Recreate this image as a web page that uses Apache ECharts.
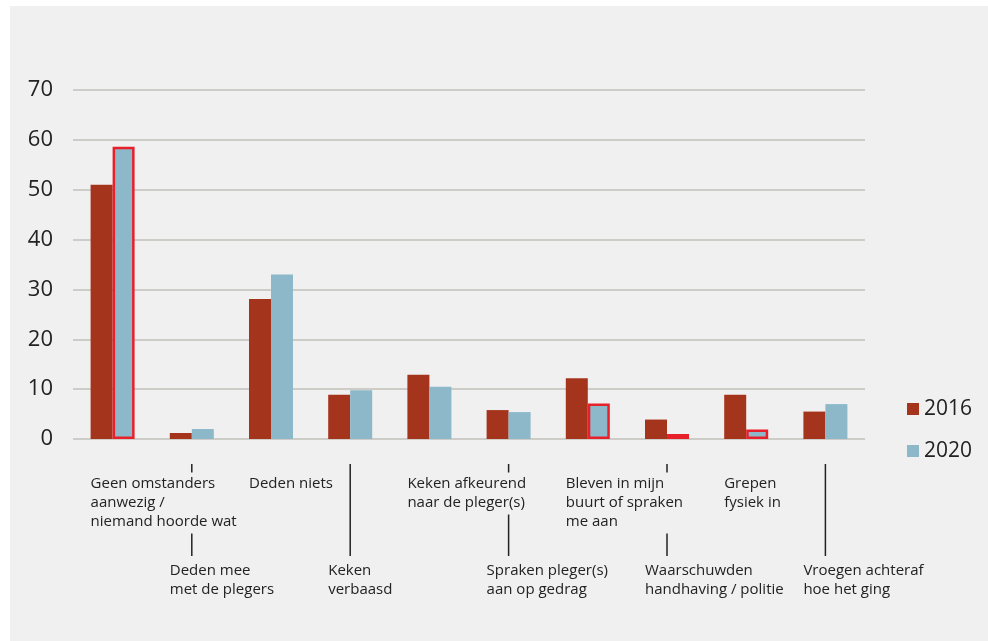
<!DOCTYPE html>
<html>
<head>
<meta charset="utf-8">
<script src="https://cdn.jsdelivr.net/npm/echarts@6/dist/echarts.min.js"></script>
<style>
  html, body { margin: 0; padding: 0; background: #ffffff; }
  #bg { position: absolute; left: 10px; top: 6px; width: 978px; height: 635px; background: #f0f0f0; }
  #chart { position: absolute; left: 0; top: 0; width: 988px; height: 641px; }
</style>
</head>
<body>
<div id="bg"></div>
<div id="chart"></div>
<script>
// ---- data ----
var categories = [
  'Geen omstanders\naanwezig /\nniemand hoorde wat',
  'Deden mee\nmet de plegers',
  'Deden niets',
  'Keken\nverbaasd',
  'Keken afkeurend\nnaar de pleger(s)',
  'Spraken pleger(s)\naan op gedrag',
  'Bleven in mijn\nbuurt of spraken\nme aan',
  'Waarschuwden\nhandhaving / politie',
  'Grepen\nfysiek in',
  'Vroegen achteraf\nhoe het ging'
];
var seriesNames = ['2016', '2020'];
var values2016 = [51, 1.2, 28.1, 8.9, 12.9, 5.8, 12.2, 3.9, 8.9, 5.5];
var values2020 = [58.6, 2.0, 33, 9.8, 10.5, 5.4, 7.1, 1.0, 1.9, 7.0];
var outlined2020 = [0, 6, 7, 8];
var yTicks = [0, 10, 20, 30, 40, 50, 60, 70];

// ---- style ----
var FONT = "'Open Sans', 'Noto Sans', sans-serif";
var C16 = '#a5341d', C20 = '#8cb8ca', RED = '#e8202a', TXT = '#222222', BG = '#f0f0f0';
var BARW = 22;

var chart = echarts.init(document.getElementById('chart'), null, { renderer: 'canvas' });

var data2020 = values2020.map(function (v, i) {
  if (outlined2020.indexOf(i) >= 0) {
    return { value: v, itemStyle: { borderColor: RED, borderWidth: 2.5 } };
  }
  return v;
});

chart.setOption({
  backgroundColor: 'transparent',
  animation: false,
  grid: { left: 73, right: 123, top: 90, bottom: 202, containLabel: false },
  legend: {
    orient: 'vertical',
    left: 907, top: 398, padding: 0,
    itemWidth: 12, itemHeight: 12, itemGap: 20,
    icon: 'rect',
    textStyle: { fontFamily: FONT, fontSize: 21, color: TXT, lineHeight: 22 },
    data: seriesNames
  },
  xAxis: {
    type: 'category',
    data: categories,
    axisLine: { show: false },
    axisTick: { show: false },
    axisLabel: { show: false }
  },
  yAxis: {
    type: 'value',
    min: yTicks[0], max: yTicks[yTicks.length - 1], interval: 10,
    axisLine: { show: false },
    axisTick: { show: false },
    axisLabel: { fontFamily: FONT, fontSize: 22, color: TXT, margin: 20 },
    splitLine: { lineStyle: { color: '#c2c1ba', width: 1.5 } }
  },
  series: [
    { name: seriesNames[0], type: 'bar', data: values2016, barWidth: BARW, barGap: '0%',
      itemStyle: { color: C16 } },
    { name: seriesNames[1], type: 'bar', data: data2020, barWidth: BARW, barGap: '0%',
      itemStyle: { color: C20 } }
  ]
});

// staggered category labels with connector lines, positioned from the axis scale
var graphics = [];
categories.forEach(function (name, i) {
  var cx = chart.convertToPixel({ xAxisIndex: 0 }, i);
  var left = cx - BARW;
  if (i % 2 === 0) {
    graphics.push({
      type: 'text', z: 20,
      style: {
        x: left - 3, y: 474.5 - 2, text: name, align: 'left', verticalAlign: 'top',
        font: '15px ' + FONT, fill: TXT, lineHeight: 19,
        backgroundColor: BG, padding: [2, 3, 2, 3]
      }
    });
  } else {
    graphics.push({
      type: 'line', z: 10,
      shape: { x1: cx, y1: 464, x2: cx, y2: 556 },
      style: { stroke: TXT, lineWidth: 1.5 }
    });
    graphics.push({
      type: 'text', z: 20,
      style: {
        x: left, y: 561.5, text: name, align: 'left', verticalAlign: 'top',
        font: '15px ' + FONT, fill: TXT, lineHeight: 19
      }
    });
  }
});
chart.setOption({ graphic: graphics });
</script>
</body>
</html>
